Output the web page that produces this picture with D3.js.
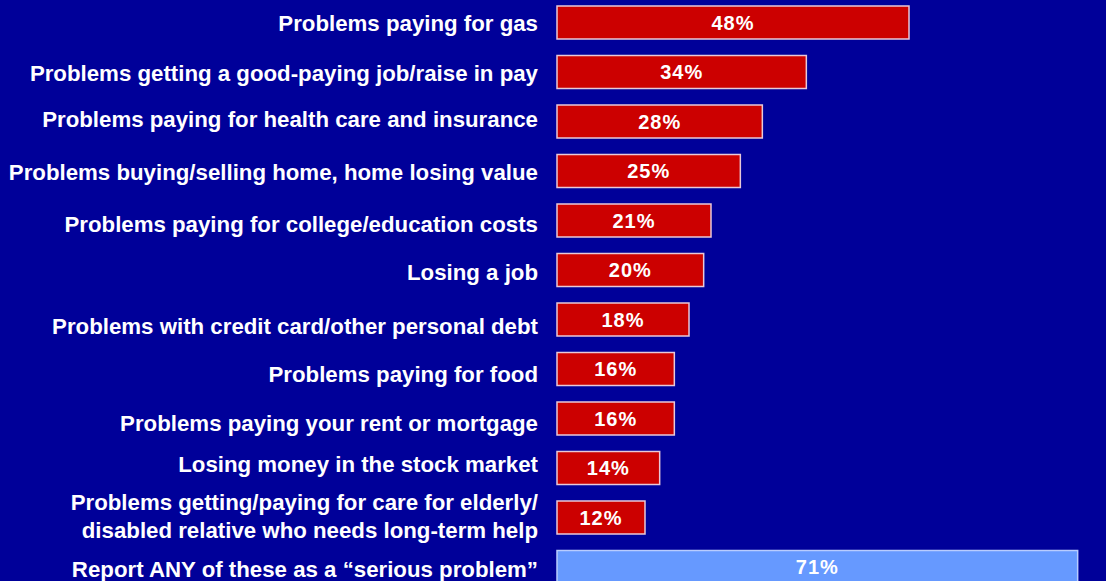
<!DOCTYPE html>
<html>
<head>
<meta charset="utf-8">
<script src="https://cdn.jsdelivr.net/npm/d3@7"></script>
<style>
  html, body { margin: 0; padding: 0; background: #000099; overflow: hidden; }
  svg { display: block; }
</style>
</head>
<body>
<svg id="chart" width="1106" height="581"></svg>
<script>
const categories = [
  "Problems paying for gas",
  "Problems getting a good-paying job/raise in pay",
  "Problems paying for health care and insurance",
  "Problems buying/selling home, home losing value",
  "Problems paying for college/education costs",
  "Losing a job",
  "Problems with credit card/other personal debt",
  "Problems paying for food",
  "Problems paying your rent or mortgage",
  "Losing money in the stock market",
  "Problems getting/paying for care for elderly/\ndisabled relative who needs long-term help",
  "Report ANY of these as a \u201cserious problem\u201d"
];
const values = [48, 34, 28, 25, 21, 20, 18, 16, 16, 14, 12, 71];
const isTotal = [false, false, false, false, false, false, false, false, false, false, false, true];

// layout: small vertical offsets of the separately placed label text boxes
const labelNudge = [0, 0.5, -2.5, 1, 3, 1.5, 6, 5, 4.5, -4, -2, 2];

const W = 1106, H = 581;
const svg = d3.select("#chart");

svg.append("rect").attr("width", W).attr("height", H).attr("fill", "#000099");

const x = d3.scaleLinear().domain([0, 48]).range([557, 909]);
const y = d3.scaleBand()
  .domain(d3.range(categories.length))
  .range([-2.25, -2.25 + 12 * 49.5])
  .paddingInner(1 / 3)
  .paddingOuter(1 / 6);

const g = svg.append("g");

g.selectAll("rect.bar")
  .data(values)
  .join("rect")
  .attr("class", "bar")
  .attr("x", x(0))
  .attr("y", (d, i) => y(i))
  .attr("width", d => x(d) - x(0))
  .attr("height", y.bandwidth())
  .attr("fill", (d, i) => isTotal[i] ? "#6699FF" : "#CC0000")
  .attr("stroke", (d, i) => isTotal[i] ? "#B8CCFF" : "#E8C8D8")
  .attr("stroke-width", 1.5);

g.selectAll("text.val")
  .data(values)
  .join("text")
  .attr("class", "val")
  .attr("x", d => (x(0) + x(d)) / 2)
  .attr("y", (d, i) => y(i) + y.bandwidth() / 2)
  .attr("dy", "0.36em")
  .attr("text-anchor", "middle")
  .attr("fill", "#FFFFFF")
  .style("font-family", "'Liberation Sans', Arial, sans-serif")
  .style("font-weight", "bold")
  .style("font-size", "20px")
  .style("letter-spacing", "1px")
  .text(d => d + "%");

const labels = g.selectAll("text.lab")
  .data(categories)
  .join("text")
  .attr("class", "lab")
  .attr("x", 538)
  .attr("text-anchor", "end")
  .attr("fill", "#FFFFFF")
  .style("font-family", "'Liberation Sans', Arial, sans-serif")
  .style("font-weight", "bold")
  .style("font-size", "22.25px");

labels.each(function(d, i) {
  const lines = d.split("\n");
  const cy = y(i) + y.bandwidth() / 2 + labelNudge[i];
  const lh = 28;
  const t = d3.select(this);
  lines.forEach((ln, k) => {
    t.append("tspan")
      .attr("x", 538)
      .attr("y", cy + (k - (lines.length - 1) / 2) * lh)
      .attr("dy", "0.36em")
      .text(ln);
  });
});
</script>
</body>
</html>
